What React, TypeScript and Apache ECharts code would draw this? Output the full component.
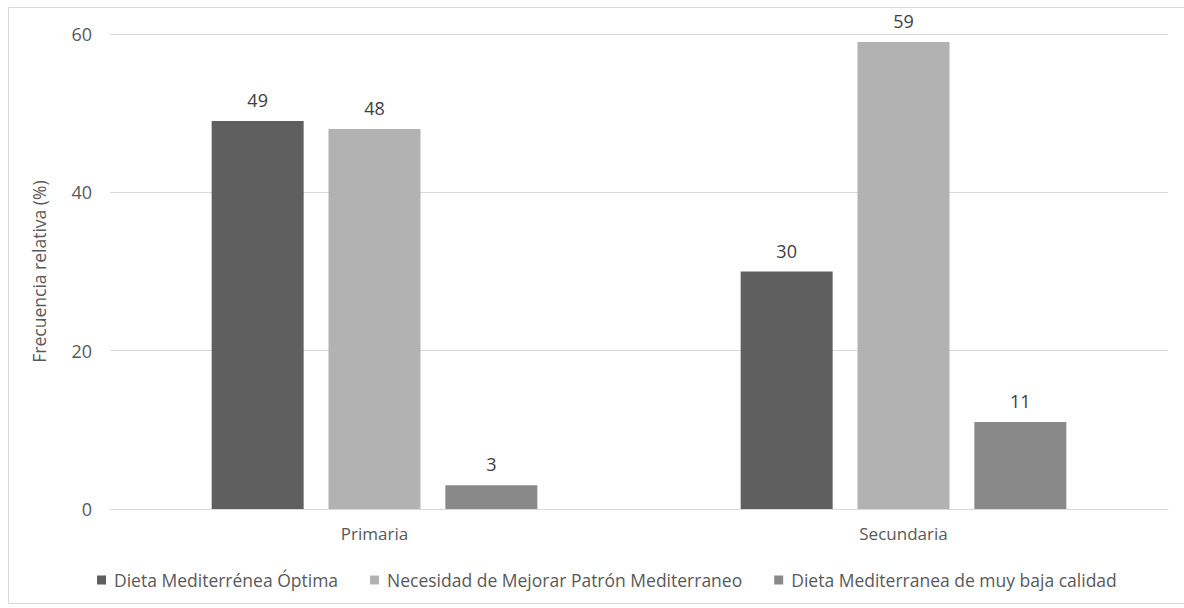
import React, { useEffect, useRef } from "react";
import * as echarts from "echarts";

const categories = ["Primaria", "Secundaria"];
const seriesNames = [
  "Dieta Mediterrénea Óptima",
  "Necesidad de Mejorar Patrón Mediterraneo",
  "Dieta Mediterranea de muy baja calidad",
];
const optima = [49, 30];
const mejorar = [48, 59];
const baja = [3, 11];
const colors = ["#5f5f5f", "#b2b2b2", "#898989"];
const yTicks = [0, 20, 40, 60];

const FONT = "'Open Sans', 'Noto Sans', sans-serif";

export default function App() {
  const ref = useRef<HTMLDivElement>(null);
  useEffect(() => {
    const chart = echarts.init(ref.current!, null, { renderer: "svg" });
    const values = [optima, mejorar, baja];
    chart.setOption({
      animation: false,
      backgroundColor: "#ffffff",
      textStyle: { fontFamily: FONT },
      graphic: [
        {
          type: "rect",
          shape: { x: 8.5, y: 7.5, width: 1180, height: 596 },
          style: { fill: "none", stroke: "#d9d9d9", lineWidth: 1 },
          silent: true,
        },
      ],
      grid: { left: 110, right: 16, top: 34, bottom: 99 },
      legend: {
        top: 566,
        left: 92,
        itemWidth: 9,
        itemHeight: 9,
        itemGap: 32,
        icon: "rect",
        textStyle: { fontFamily: FONT, fontSize: 17.5, color: "#595959", padding: [0, 0, 0, 3] },
        data: seriesNames,
      },
      xAxis: {
        type: "category",
        data: categories,
        axisLine: { lineStyle: { color: "#d9d9d9" } },
        axisTick: { show: false },
        axisLabel: { fontFamily: FONT, fontSize: 17, color: "#595959", margin: 16 },
      },
      yAxis: {
        type: "value",
        min: yTicks[0],
        max: yTicks[yTicks.length - 1],
        interval: 20,
        name: "Frecuencia relativa (%)",
        nameLocation: "middle",
        nameGap: 62,
        nameTextStyle: { fontFamily: FONT, fontSize: 17.5, color: "#595959" },
        axisLine: { show: false },
        axisTick: { show: false },
        splitLine: { lineStyle: { color: "#d9d9d9" } },
        axisLabel: { fontFamily: FONT, fontSize: 18, color: "#595959", margin: 18 },
      },
      series: seriesNames.map((name, i) => ({
        name,
        type: "bar",
        data: values[i],
        barWidth: 92,
        barGap: "27%",
        itemStyle: { color: colors[i] },
        label: {
          show: true,
          position: "top",
          distance: 12,
          fontFamily: FONT,
          fontSize: 18,
          color: "#404040",
        },
      })),
    });
    return () => chart.dispose();
  }, []);
  return (
    <div
      ref={ref}
      style={{ position: "absolute", left: 0, top: 0, width: 1184, height: 608 }}
    />
  );
}
